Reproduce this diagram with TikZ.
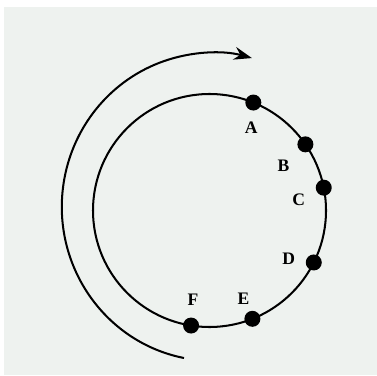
\documentclass[tikz,border=0pt]{standalone}
\usepackage{fontspec}
\setmainfont{Liberation Serif}
\usetikzlibrary{arrows.meta}
\definecolor{paper}{RGB}{238,242,239}
\begin{document}
\begin{tikzpicture}[
        x=0.02cm, y=0.02cm, line width=1.15pt,
        dot/.style={circle, fill=black, inner sep=0pt, minimum size=0.32cm},
        lbl/.style={font=\fontsize{10}{12}\selectfont\bfseries, inner sep=0pt}
    ]
        \fill[white] (0,0) rectangle (377,375);
        \fill[paper] (4,0) rectangle (377,368);
        \useasboundingbox (0,0) rectangle (377,375);

        \coordinate (ctr) at (209.5,164.5);
        \coordinate (tail) at (184,17);

        % ring with the six points
        \draw (ctr) circle[radius=116.5];
        \node[dot] (a) at ([shift={(67.9:116.5)}]ctr) {};
        \node[dot] (b) at ([shift={(34.6:116.5)}]ctr) {};
        \node[dot] (c) at ([shift={(11.3:116.5)}]ctr) {};
        \node[dot] (d) at ([shift={(-26.5:116.5)}]ctr) {};
        \node[dot] (e) at ([shift={(-68.4:116.5)}]ctr) {};
        \node[dot] (f) at ([shift={(-99.1:116.5)}]ctr) {};

        \node[lbl] (la) at ([shift={(-2,-25)}]a) {A};
        \node[lbl] (lb) at ([shift={(-22,-21)}]b) {B};
        \node[lbl] (lc) at ([shift={(-25,-12)}]c) {C};
        \node[lbl] (ld) at ([shift={(-25,4)}]d) {D};
        \node[lbl] (le) at ([shift={(-9,20)}]e) {E};
        \node[lbl] (lf) at ([shift={(2,26)}]f) {F};

        % direction of travel
        \draw[-{Stealth[length=0.36cm, width=0.26cm, inset=0.12cm]}] (tail)
            arc[start angle=259, end angle=75, x radius=151, y radius=154];
    \end{tikzpicture}
\end{document}
